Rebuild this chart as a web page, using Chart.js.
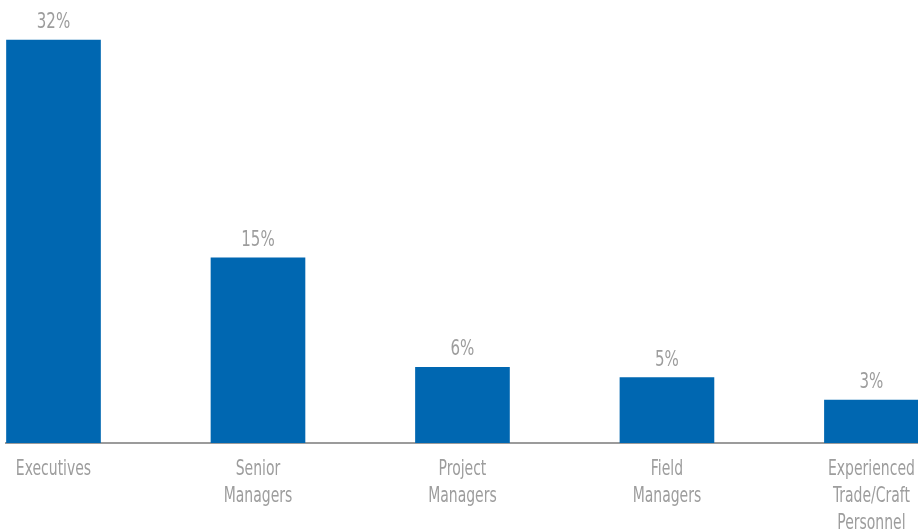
<!DOCTYPE html>
<html>
<head>
<meta charset="utf-8">
<style>
  html, body { margin: 0; padding: 0; background: #ffffff; }
  #wrap { width: 918px; height: 531px; position: relative; }
</style>
<script src="https://cdn.jsdelivr.net/npm/chart.js@4/dist/chart.umd.min.js"></script>
</head>
<body>
<div id="wrap"><canvas id="c"></canvas></div>
<script>
const categories = ["Executives", "Senior Managers", "Project Managers", "Field Managers", "Experienced Trade/Craft Personnel"];
const tickLabels = [["Executives"], ["Senior", "Managers"], ["Project", "Managers"], ["Field", "Managers"], ["Experienced", "Trade/Craft", "Personnel"]];
const values = [32, 14.7, 6, 5.2, 3.4];
const valueLabels = ["32%", "15%", "6%", "5%", "3%"];

const FONT = "'DejaVu Sans Condensed', 'Liberation Sans Narrow', 'Liberation Sans', sans-serif";
const GRAY = '#9d9d9d';

// draws condensed text (the original uses a very narrow typeface)
function narrowText(ctx, text, x, y, squeeze) {
  ctx.save();
  ctx.translate(x, y);
  ctx.scale(squeeze, 1);
  ctx.fillText(text, 0, 0);
  ctx.restore();
}

const labelPlugin = {
  id: 'narrowLabels',
  afterDatasetsDraw(chart) {
    const ctx = chart.ctx;
    const meta = chart.getDatasetMeta(0);
    ctx.save();
    ctx.fillStyle = GRAY;
    ctx.textAlign = 'center';
    ctx.textBaseline = 'alphabetic';
    ctx.font = '22px ' + FONT;
    meta.data.forEach((bar, i) => {
      narrowText(ctx, valueLabels[i], bar.x, bar.y - 12, 0.76);
    });
    const xs = chart.scales.x;
    ctx.font = '21px ' + FONT;
    xs.ticks.forEach((t, i) => {
      const x = xs.getPixelForTick(i);
      tickLabels[t.value].forEach((line, j) => {
        narrowText(ctx, line, x, xs.top + 32 + j * 27, 0.74);
      });
    });
    ctx.restore();
  }
};

new Chart(document.getElementById('c'), {
  type: 'bar',
  data: {
    labels: categories,
    datasets: [{
      data: values.map((v, i) => ({ x: i, y: v })),
      backgroundColor: '#0067b1',
      barThickness: 94,
      borderWidth: 0
    }]
  },
  options: {
    responsive: true,
    maintainAspectRatio: false,
    animation: false,
    layout: { padding: { left: 6, right: 0, top: 0, bottom: 0 } },
    plugins: { legend: { display: false }, tooltip: { enabled: false } },
    scales: {
      x: {
        type: 'linear',
        offset: false,
        min: -0.2323,
        max: 4.2277,
        grid: { display: false, drawTicks: false },
        border: { display: true, color: '#9b9b9b', width: 2 },
        afterBuildTicks(scale) {
          scale.ticks = categories.map((_, i) => ({ value: i }));
        },
        afterFit(scale) {
          scale.height = 88;
          scale.paddingLeft = 0;
          scale.paddingRight = 0;
        },
        ticks: { display: false }
      },
      y: {
        display: false,
        min: 0,
        max: 35.18
      }
    }
  },
  plugins: [labelPlugin]
});
</script>
</body>
</html>
